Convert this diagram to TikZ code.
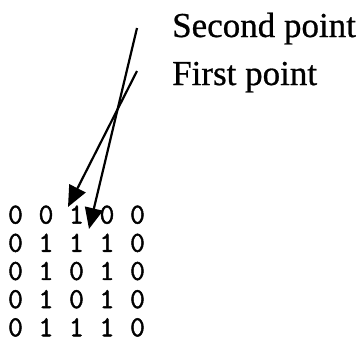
\documentclass[tikz,border=0pt]{standalone}
\usepackage{fontspec}
\setmainfont{Liberation Serif}[FakeBold=0.7]
\newfontfamily\bitfont{Latin Modern Mono}[FakeBold=1.6]
\usetikzlibrary{arrows.meta,matrix}
\begin{document}
\begin{tikzpicture}[x=1pt,y=-1pt,
  label/.style={anchor=base west,inner sep=0pt,font=\fontsize{35}{42}\selectfont},
  bit/.style={inner sep=0pt,minimum width=30.5pt,minimum height=28pt,
    font=\bitfont\fontsize{29}{28}\selectfont},
  pointer/.style={line width=2.2pt,-{Triangle[length=21pt,width=18pt]}}]
\useasboundingbox (0,0) rectangle (361,343);

% labels
\node[label] (second) at (172,37) {Second point};
\node[label] (first) at (172,85) {First point};

% binary image
\matrix (m) [matrix of nodes, nodes={bit}, column sep=0pt, row sep=0pt,
  anchor=center] at (76.5,271) {
0 & 0 & 1 & 0 & 0 \\
0 & 1 & 1 & 1 & 0 \\
0 & 1 & 0 & 1 & 0 \\
0 & 1 & 0 & 1 & 0 \\
0 & 1 & 1 & 1 & 0 \\
};

% pointer ends
\coordinate (s0) at (137,28);
\coordinate (s1) at (89,229);
\coordinate (f0) at (137,71);
\coordinate (f1) at (68,207);

\draw[pointer] (s0) -- (s1);
\draw[pointer] (f0) -- (f1);
\end{tikzpicture}
\end{document}
